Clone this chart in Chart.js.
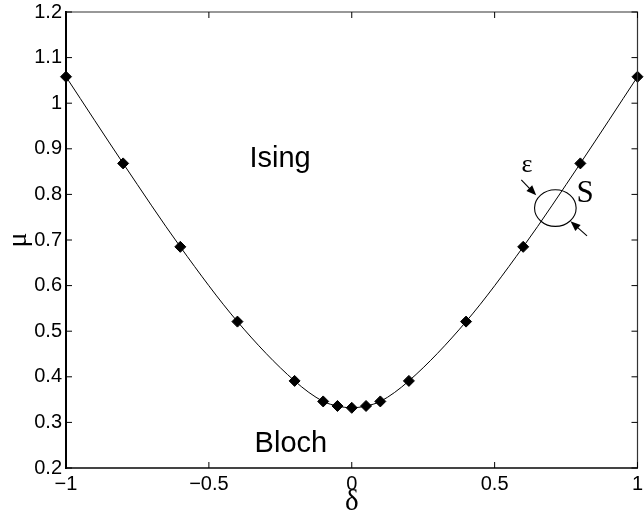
<!DOCTYPE html>
<html>
<head>
<meta charset="utf-8">
<script src="https://cdn.jsdelivr.net/npm/chart.js@4.4.1/dist/chart.umd.min.js"></script>
<style>
  html, body { margin: 0; padding: 0; background: #fff; }
  #wrap { width: 644px; height: 514px; }
</style>
</head>
<body>
<div id="wrap"><canvas id="phaseChart" width="644" height="514"></canvas></div>
<script>
// data
let delta = [-1, -0.8, -0.6, -0.4, -0.2, -0.1, -0.05, 0, 0.05, 0.1, 0.2, 0.4, 0.6, 0.8, 1];
let mu = [1.058, 0.868, 0.685, 0.521, 0.391, 0.346, 0.336, 0.332, 0.336, 0.346, 0.391, 0.521, 0.685, 0.868, 1.058];

let xTicks = [-1, -0.5, 0, 0.5, 1];
let xTickLabels = ["\u22121", "\u22120.5", "0", "0.5", "1"];
let yTicks = [0.2, 0.3, 0.4, 0.5, 0.6, 0.7, 0.8, 0.9, 1, 1.1, 1.2];
let yTickLabels = ["0.2", "0.3", "0.4", "0.5", "0.6", "0.7", "0.8", "0.9", "1", "1.1", "1.2"];

let points = delta.map((d, i) => ({ x: d, y: mu[i] }));

function labelFor(value, ticks, labels) {
    for (let i = 0; i < ticks.length; i++) {
        if (Math.abs(ticks[i] - value) < 1e-6) return labels[i];
    }
    return "";
}

function arrow(ctx, x1, y1, x2, y2) {
    let a = Math.atan2(y2 - y1, x2 - x1);
    ctx.beginPath();
    ctx.moveTo(x1, y1);
    ctx.lineTo(x2 - 7 * Math.cos(a), y2 - 7 * Math.sin(a));
    ctx.stroke();
    ctx.beginPath();
    ctx.moveTo(x2, y2);
    ctx.lineTo(x2 - 10 * Math.cos(a) + 4 * Math.sin(a), y2 - 10 * Math.sin(a) - 4 * Math.cos(a));
    ctx.lineTo(x2 - 10 * Math.cos(a) - 4 * Math.sin(a), y2 - 10 * Math.sin(a) + 4 * Math.cos(a));
    ctx.closePath();
    ctx.fill();
}

// box, inward ticks and the text inside the axes
const framePlugin = {
    id: "frame",
    afterDraw(chart) {
        const ctx = chart.ctx;
        const xs = chart.scales.x, ys = chart.scales.y;
        const a = chart.chartArea;
        const px = v => xs.getPixelForValue(v);
        const py = v => ys.getPixelForValue(v);
        ctx.save();

        ctx.strokeStyle = "#333";
        ctx.lineWidth = 1.2;
        ctx.beginPath();
        ctx.moveTo(a.left, a.top);
        ctx.lineTo(a.right, a.top);
        ctx.lineTo(a.right, a.bottom);
        ctx.stroke();

        ctx.strokeStyle = "#000";
        ctx.lineWidth = 1;
        ctx.beginPath();
        xTicks.forEach(t => {
            let x = px(t);
            ctx.moveTo(x, a.bottom); ctx.lineTo(x, a.bottom - 6);
            ctx.moveTo(x, a.top); ctx.lineTo(x, a.top + 6);
        });
        yTicks.forEach(t => {
            let y = py(t);
            ctx.moveTo(a.left, y); ctx.lineTo(a.left + 6, y);
            ctx.moveTo(a.right, y); ctx.lineTo(a.right - 6, y);
        });
        ctx.stroke();

        ctx.fillStyle = "#000";
        ctx.font = "29px 'Liberation Sans', Arial, sans-serif";
        ctx.textAlign = "center";
        ctx.textBaseline = "alphabetic";
        ctx.fillText("Ising", px(-0.251), py(0.859));
        ctx.fillText("Bloch", px(-0.213), py(0.235));

        ctx.font = "26px 'Liberation Serif', 'Times New Roman', serif";
        ctx.fillText("\u03b5", px(0.613), py(0.850));
        ctx.font = "31px 'Liberation Serif', 'Times New Roman', serif";
        ctx.fillText("S", px(0.817), py(0.784));

        ctx.lineWidth = 1.1;
        ctx.beginPath();
        ctx.ellipse(px(0.7125), py(0.770), 20.8, 18.3, 0, 0, 2 * Math.PI);
        ctx.stroke();

        ctx.lineWidth = 1.1;
        arrow(ctx, px(0.5934), py(0.832), px(0.6456), py(0.798));
        arrow(ctx, px(0.8233), py(0.709), px(0.7655), py(0.741));

        ctx.restore();
    }
};

const ctx = document.getElementById("phaseChart").getContext("2d");

new Chart(ctx, {
    type: "line",
    data: {
        datasets: [{
            data: points,
            borderColor: "#000",
            borderWidth: 1,
            backgroundColor: "#000",
            pointStyle: "rectRot",
            pointRadius: 5.5,
            pointHoverRadius: 5.5,
            cubicInterpolationMode: "monotone",
            clip: false
        }]
    },
    options: {
        responsive: false,
        animation: false,
        layout: { padding: { left: 0, right: 4, top: 12, bottom: 0 } },
        plugins: { legend: { display: false }, tooltip: { enabled: false } },
        scales: {
            x: {
                type: "linear",
                min: -1,
                max: 1,
                afterBuildTicks: s => { s.ticks = xTicks.map(v => ({ value: v })); },
                afterFit: s => { s.height = 46; s.paddingLeft = 0; s.paddingRight = 0; },
                grid: { display: false, drawTicks: false },
                border: { display: true, color: "#444", width: 2 },
                ticks: {
                    color: "#000",
                    padding: 4,
                    maxRotation: 0,
                    autoSkip: false,
                    font: { family: "'Liberation Sans', Arial, sans-serif", size: 20 },
                    callback: v => labelFor(v, xTicks, xTickLabels)
                },
                title: {
                    display: true,
                    text: "\u03b4",
                    color: "#000",
                    padding: { top: 0, bottom: 0 },
                    font: { family: "'Liberation Serif', 'Times New Roman', serif", size: 29, lineHeight: 0.8 }
                }
            },
            y: {
                min: 0.2,
                max: 1.2,
                afterBuildTicks: s => { s.ticks = yTicks.map(v => ({ value: v })); },
                afterFit: s => { s.width = 66; s.paddingTop = 0; s.paddingBottom = 0; },
                grid: { display: false, drawTicks: false },
                border: { display: true, color: "#000", width: 2 },
                ticks: {
                    color: "#000",
                    padding: 4,
                    autoSkip: false,
                    font: { family: "'Liberation Sans', Arial, sans-serif", size: 20 },
                    callback: v => labelFor(v, yTicks, yTickLabels)
                },
                title: {
                    display: true,
                    text: "\u03bc",
                    color: "#000",
                    padding: { top: 5, bottom: 0 },
                    font: { family: "'Liberation Serif', 'Times New Roman', serif", size: 28, lineHeight: 1 }
                }
            }
        }
    },
    plugins: [framePlugin]
});
</script>
</body>
</html>
